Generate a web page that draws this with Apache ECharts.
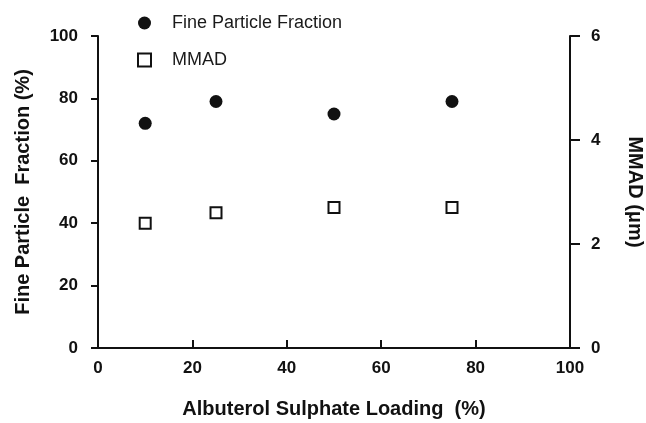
<!DOCTYPE html>
<html>
<head>
<meta charset="utf-8">
<script src="https://cdn.jsdelivr.net/npm/echarts@6/dist/echarts.min.js"></script>
<style>
html,body{margin:0;padding:0;background:#fff;}
#chart{width:646px;height:423px;}
</style>
</head>
<body>
<div id="chart"></div>
<script>
var loading = [10, 25, 50, 75];
var fpf = [72, 79, 75, 79];      // Fine Particle Fraction (%)
var mmad = [2.4, 2.6, 2.7, 2.7]; // MMAD (um)

function pairs(xs, ys){
	var out = [];
	for (var i = 0; i < xs.length; i++) {
		out.push([xs[i], ys[i]]);
	}
	return out;
}

var ink = '#111';
var font = 'Liberation Sans, Arial, sans-serif';
var tickFont = { fontSize: 17, fontWeight: 'bold', color: ink, fontFamily: font };
var nameFont = { fontSize: 20, fontWeight: 'bold', color: ink, fontFamily: font };

var chart = echarts.init(document.getElementById('chart'));
var option = {
	animation: false,
	backgroundColor: '#fff',
	textStyle: { fontFamily: font },
	//固定绘图区，不随标签自动收缩
	grid: { left: 98, right: 76, top: 36, bottom: 75, containLabel: false, outerBoundsMode: 'none' },
	legend: {
		orient: 'vertical',
		left: 132,
		top: 9,
		itemGap: 19,
		itemWidth: 13,
		itemHeight: 13,
		textStyle: { fontSize: 18, color: '#1a1a1a', fontFamily: font, padding: [0, 0, 0, 16] },
		data: [
			{ name: 'Fine Particle Fraction', icon: 'circle' },
			{ name: 'MMAD', icon: 'rect' }
		]
	},
	xAxis: {
		type: 'value',
		min: 0, max: 100, interval: 20,
		name: 'Albuterol Sulphate Loading  (%)',
		nameLocation: 'middle',
		nameGap: 51,
		nameTextStyle: nameFont,
		axisLine: { show: true, lineStyle: { color: ink, width: 2 } },
		axisTick: { show: true, inside: true, length: 8, lineStyle: { color: ink, width: 2 } },
		axisLabel: Object.assign({ margin: 12 }, tickFont),
		splitLine: { show: false }
	},
	yAxis: [{
		type: 'value',
		position: 'left',
		min: 0, max: 100, interval: 20,
		name: 'Fine Particle  Fraction (%)',
		nameLocation: 'middle',
		nameRotate: 90,
		nameGap: 65,
		nameTextStyle: nameFont,
		axisLine: { show: true, lineStyle: { color: ink, width: 2 } },
		axisTick: { show: true, length: 7, lineStyle: { color: ink, width: 2 } },
		axisLabel: Object.assign({ margin: 20 }, tickFont),
		splitLine: { show: false }
	}, {
		type: 'value',
		position: 'right',
		min: 0, max: 6, interval: 2,
		name: 'MMAD (\u03bcm)',
		nameLocation: 'middle',
		nameRotate: -90,
		nameGap: 55,
		nameTextStyle: nameFont,
		axisLine: { show: true, lineStyle: { color: ink, width: 2 } },
		axisTick: { show: true, length: 10, lineStyle: { color: ink, width: 2 } },
		axisLabel: Object.assign({ margin: 21 }, tickFont),
		splitLine: { show: false }
	}],
	series: [{
		name: 'Fine Particle Fraction',
		type: 'scatter',
		yAxisIndex: 0,
		symbol: 'circle',
		symbolSize: 13,
		itemStyle: { color: ink, opacity: 1 },
		data: pairs(loading, fpf)
	}, {
		name: 'MMAD',
		type: 'scatter',
		yAxisIndex: 1,
		symbol: 'rect',
		symbolSize: 11,
		itemStyle: { color: '#fff', borderColor: ink, borderWidth: 2, opacity: 1 },
		data: pairs(loading, mmad)
	}]
};
chart.setOption(option);
</script>
</body>
</html>
